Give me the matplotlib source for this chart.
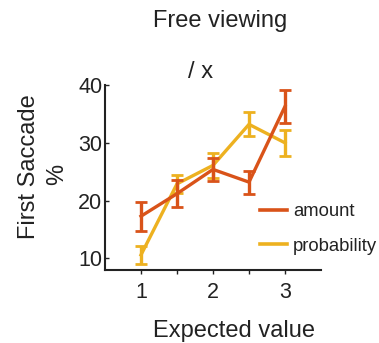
import matplotlib
matplotlib.use("Agg")
import matplotlib.pyplot as plt
from matplotlib.lines import Line2D

plt.rcParams['font.family'] = ['Liberation Sans', 'DejaVu Sans']

x_vals = [1, 1.5, 2, 2.5, 3]
amount = [17.3, 21.2, 25.4, 23.2, 36.3]
amount_err = [2.5, 2.3, 2.0, 2.0, 2.9]
probability = [10.6, 22.9, 26.1, 33.2, 30.0]
probability_err = [1.5, 1.6, 2.1, 2.1, 2.3]
xticks = [1, 1.5, 2, 2.5, 3]
xticklabels = ['1', '', '2', '', '3']
yticks = [10, 20, 30, 40]
series_labels = ['amount', 'probability']

c_amount = '#D95319'
c_prob = '#EDB120'
txt = '#222222'

fig = plt.figure(figsize=(3.79, 3.43), dpi=100)
ax = fig.add_axes([0.277, 0.213, 0.570, 0.539])

ax.errorbar(x_vals, amount, yerr=amount_err, color=c_amount, lw=2.4,
            capsize=4, capthick=2, elinewidth=2.4, zorder=3)
ax.errorbar(x_vals, probability, yerr=probability_err, color=c_prob, lw=2.4,
            capsize=4, capthick=2, elinewidth=2.4, zorder=2)

ax.set_xlim(0.5, 3.5)
ax.set_ylim(8, 40)
ax.set_xticks(xticks)
ax.set_xticklabels(xticklabels)
ax.set_yticks(yticks)
ax.spines['top'].set_visible(False)
ax.spines['right'].set_visible(False)
for s in ['left', 'bottom']:
    ax.spines[s].set_linewidth(1.5)
    ax.spines[s].set_color(txt)
ax.tick_params(axis='y', direction='in', length=3, width=1, labelsize=15.5, pad=2, colors=txt)
ax.tick_params(axis='x', direction='out', length=3, width=1, labelsize=15.5, pad=6, colors=txt)

fig.text(0.617, 1 - 337 / 343, 'Expected value', fontsize=17, ha='center', va='baseline', color=txt)
fig.text(0.580, 1 - 27 / 343, 'Free viewing', fontsize=17, ha='center', va='baseline', color=txt)
fig.text(0.528, 1 - 78 / 343, '/ x', fontsize=17, ha='center', va='baseline', color=txt)
fig.text(0.077, 0.513, 'First Saccade', fontsize=17, rotation=90, ha='center', va='center', color=txt)
fig.text(0.152, 0.49, '%', fontsize=17, rotation=90, ha='center', va='center', color=txt)

handles = [Line2D([], [], color=c_amount, lw=2.6), Line2D([], [], color=c_prob, lw=2.6)]
fig.legend(handles, series_labels, loc='upper left', bbox_to_anchor=(260 / 379, 1 - 203 / 343),
           frameon=False, fontsize=13.3, handlelength=1.45, handletextpad=0.35,
           labelspacing=0.95, borderpad=0, borderaxespad=0, labelcolor=txt)

fig.savefig('out.png', dpi=100)
